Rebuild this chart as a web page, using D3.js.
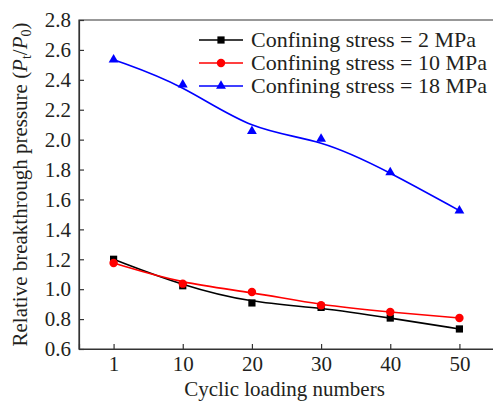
<!DOCTYPE html>
<html>
<head>
    <meta charset="utf-8">
    <style>
        body { margin: 0; background: white; }
        svg { display: block; font-family: 'Liberation Serif', 'Times New Roman', serif; }
    </style>
</head>
<body>
<svg width="493" height="401"></svg>

<script src="https://d3js.org/d3.v7.min.js"></script>
<script>
    // data
    let cycles = ["1", "10", "20", "30", "40", "50"]
    let stress2 = [1.20, 1.023, 0.908, 0.878, 0.807, 0.734]
    let stress10 = [1.175, 1.037, 0.981, 0.892, 0.847, 0.807]
    let stress18 = [2.535, 2.368, 2.056, 2.005, 1.781, 1.525]
    let yTicks = [0.6, 0.8, 1.0, 1.2, 1.4, 1.6, 1.8, 2.0, 2.2, 2.4, 2.6, 2.8]
    let seriesNames = ["Confining stress = 2 MPa", "Confining stress = 10 MPa", "Confining stress = 18 MPa"]

    let series = [
        { name: seriesNames[0], values: stress2, color: "#000000", symbol: d3.symbolSquare, size: 52 },
        { name: seriesNames[1], values: stress10, color: "#ff0000", symbol: d3.symbolCircle, size: 56 },
        { name: seriesNames[2], values: stress18, color: "#0000ff", symbol: d3.symbolTriangle, size: 42 }
    ]

    let svg = d3.select("svg")
    let mLeft = 79, mRight = 494, mTop = 20, mBottom = 349

    let x = d3.scalePoint().domain(cycles).range([mLeft, mRight]).padding(0.5)
    let y = d3.scaleLinear().domain([0.6, 2.8]).range([mBottom, mTop])

    // frame
    svg.append("path")
        .attr("d", `M${mLeft},${mBottom}V${mTop}H${mRight}V${mBottom}Z`)
        .attr("fill", "none")
        .attr("stroke", "#333")
        .attr("stroke-width", 1.2)

    let yAxis = svg.append("g")
        .attr("transform", `translate(${mLeft},0)`)
        .call(d3.axisLeft(y).tickValues(yTicks).tickFormat(d3.format(".1f")).tickSize(-5).tickPadding(8))
    let xAxis = svg.append("g")
        .attr("transform", `translate(0,${mBottom})`)
        .call(d3.axisBottom(x).tickSize(-5).tickPadding(7))

    for (let ax of [xAxis, yAxis]) {
        ax.select(".domain").attr("stroke", "#333").attr("stroke-width", 1.2)
        ax.selectAll(".tick line").attr("stroke", "#333").attr("stroke-width", 1.2)
        ax.selectAll(".tick text")
            .attr("fill", "#231f20")
            .style("font-family", "'Liberation Serif', 'Times New Roman', serif")
            .style("font-size", "21px")
    }

    // axis titles
    svg.append("text")
        .attr("x", (mLeft + mRight) / 2 - 2)
        .attr("y", 396)
        .attr("text-anchor", "middle")
        .attr("fill", "#231f20")
        .style("font-size", "21px")
        .text("Cyclic loading numbers")

    let yt = svg.append("text")
        .attr("transform", `translate(27,${(mTop + mBottom) / 2}) rotate(-90)`)
        .attr("text-anchor", "middle")
        .attr("fill", "#231f20")
        .style("font-size", "21px")
    yt.append("tspan").text("Relative breakthrough pressure (")
    yt.append("tspan").attr("font-style", "italic").text("P")
    yt.append("tspan").attr("font-size", "14px").attr("dy", 4).text("t")
    yt.append("tspan").attr("dy", -4).text("/")
    yt.append("tspan").attr("font-style", "italic").text("P")
    yt.append("tspan").attr("font-size", "14px").attr("dy", 4).text("0")
    yt.append("tspan").attr("dy", -4).text(")")

    // smoothed connection (B-spline through the points)
    let line = d3.line()
        .x((d, i) => x(cycles[i]))
        .y(d => y(d))
        .curve(d3.curveBasis)

    series.forEach(s => {
        svg.append("path")
            .attr("d", line(s.values))
            .attr("fill", "none")
            .attr("stroke", s.color)
            .attr("stroke-width", 1.6)

        svg.selectAll(null)
            .data(s.values)
            .join("path")
            .attr("transform", (d, i) => `translate(${x(cycles[i])},${y(d)})`)
            .attr("d", d3.symbol().type(s.symbol).size(s.size))
            .attr("fill", s.color)
    })

    // legend
    let legend = svg.append("g")
    series.forEach((s, i) => {
        let ly = 40 + i * 23
        legend.append("line")
            .attr("x1", 199).attr("x2", 243)
            .attr("y1", ly).attr("y2", ly)
            .attr("stroke", s.color)
            .attr("stroke-width", 1.6)
        legend.append("path")
            .attr("transform", `translate(221,${ly})`)
            .attr("d", d3.symbol().type(s.symbol).size(s.size))
            .attr("fill", s.color)
        legend.append("text")
            .attr("x", 251)
            .attr("y", ly + 7)
            .attr("fill", "#231f20")
            .style("font-size", "22px")
            .text(s.name)
    })
</script>
</body>
</html>
